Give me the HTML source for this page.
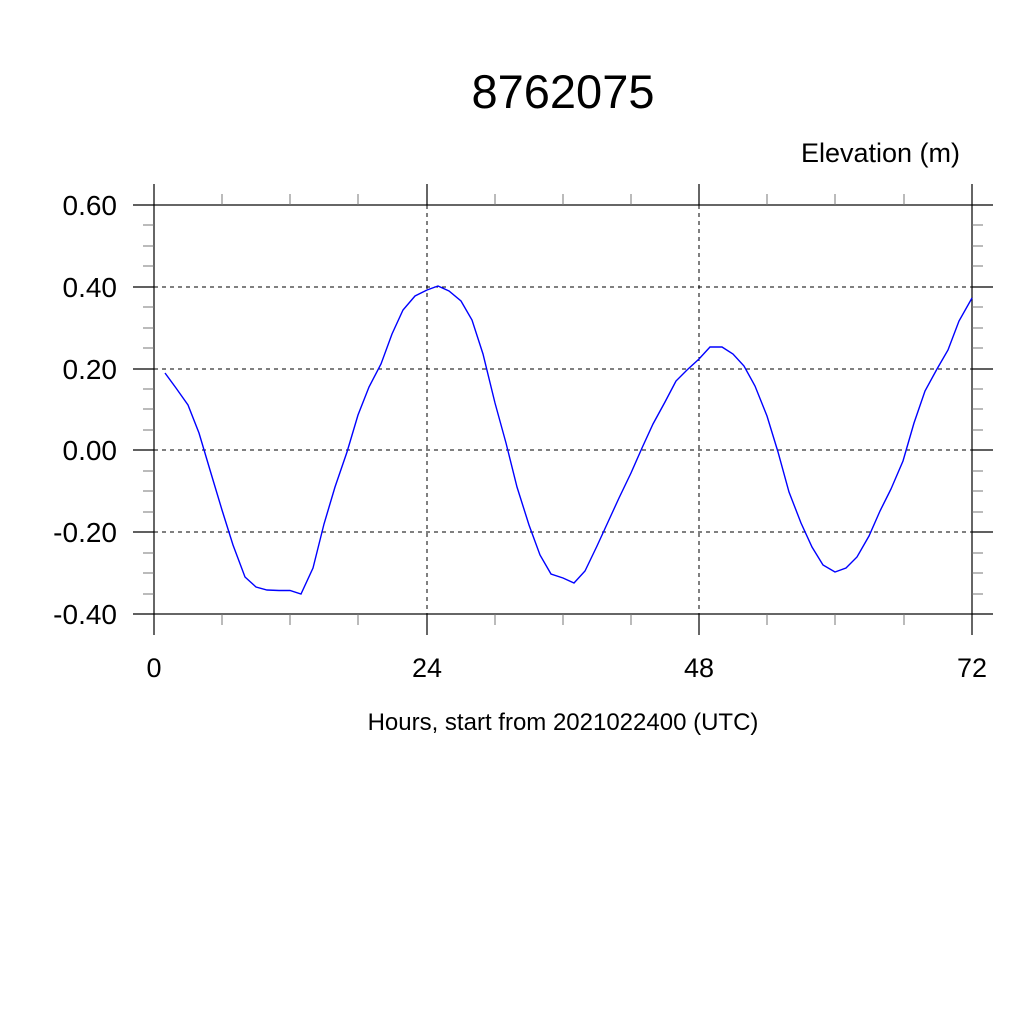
<!DOCTYPE html>
<html><head><style>body{margin:0;background:#fff}</style></head><body>
<svg width="1024" height="1024" xmlns="http://www.w3.org/2000/svg" font-family="Liberation Sans, sans-serif">
<rect width="1024" height="1024" fill="#fff"/>
<text x="563" y="108" font-size="47" text-anchor="middle">8762075</text>
<text x="960" y="162" font-size="27" text-anchor="end">Elevation (m)</text>
<g stroke="#000" stroke-width="1" stroke-dasharray="4,4">
<line x1="154" y1="287" x2="972" y2="287"/><line x1="154" y1="369" x2="972" y2="369"/>
<line x1="154" y1="450" x2="972" y2="450"/><line x1="154" y1="532" x2="972" y2="532"/>
<line x1="427" y1="205" x2="427" y2="614"/><line x1="699" y1="205" x2="699" y2="614"/>
</g>
<g stroke="#000" stroke-width="1.2">
<rect x="154" y="205" width="818" height="409" fill="none"/>
<path d="M133 205H154M133 287H154M133 369H154M133 450H154M133 532H154M133 614H154M972 205H993M972 287H993M972 369H993M972 450H993M972 532H993M972 614H993M154 184V205M427 184V205M699 184V205M972 184V205M154 614V635M427 614V635M699 614V635M972 614V635"/>
</g>
<g stroke="#777" stroke-width="1">
<path d="M143 225H154M143 246H154M143 266H154M143 307H154M143 328H154M143 348H154M143 389H154M143 409H154M143 430H154M143 471H154M143 491H154M143 512H154M143 553H154M143 573H154M143 594H154M972 225H983M972 246H983M972 266H983M972 307H983M972 328H983M972 348H983M972 389H983M972 409H983M972 430H983M972 471H983M972 491H983M972 512H983M972 553H983M972 573H983M972 594H983M222 194V205M290 194V205M358 194V205M495 194V205M563 194V205M631 194V205M767 194V205M835 194V205M904 194V205M222 614V625M290 614V625M358 614V625M495 614V625M563 614V625M631 614V625M767 614V625M835 614V625M904 614V625"/>
</g>
<polyline fill="none" stroke="#0000ff" stroke-width="1.4" points="165,373 176,388 188,405 199,433 210,470 222,510 233,545 245,577 256,587 267,590 279,590.5 290,590.5 301,594 313,568 324,524 335,487 347,452 358,415 369,387 381,364 392,334 403,310 415,296 427,290 438,286 449,291 461,301 472,320 483,354 495,403 506,443 517,487 529,525 540,555 551,574 563,578 574,583 585,571 597,546 608,522 619,498 631,473 642,448 653,424 665,402 676,381 687,370 699,359 710,347 722,347 733,354 744,366 755,386 767,416 778,452 789,492 801,523 812,547 823,565 835,572 846,568 857,557 869,536 880,511 891,489 903,461 914,423 925,391 937,369 948,350 959,321 972,298"/>
<g font-size="28" text-anchor="end">
<text x="117" y="215">0.60</text><text x="117" y="297">0.40</text><text x="117" y="379">0.20</text>
<text x="117" y="460">0.00</text><text x="117" y="542">-0.20</text><text x="117" y="624">-0.40</text>
</g>
<g font-size="27" text-anchor="middle">
<text x="154" y="677">0</text><text x="427" y="677">24</text><text x="699" y="677">48</text><text x="972" y="677">72</text>
</g>
<text x="563" y="730" font-size="24" text-anchor="middle">Hours, start from 2021022400 (UTC)</text>
</svg>
</body></html>
